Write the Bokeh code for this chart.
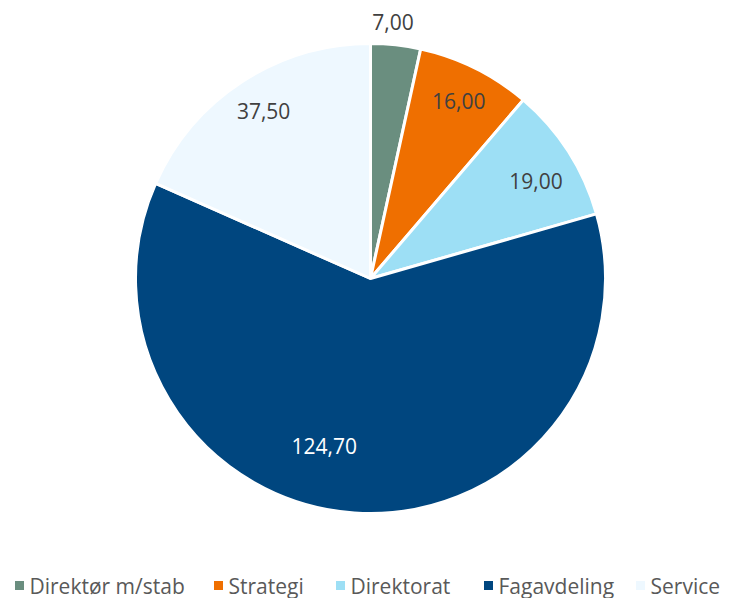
import math
from bokeh.plotting import figure
from bokeh.models import Range1d, ColumnDataSource
from bokeh.core.properties import value
from bokeh.embed import file_html
from bokeh.resources import INLINE

categories = ["Direktør m/stab", "Strategi", "Direktorat", "Fagavdeling", "Service"]
values = [7.00, 16.00, 19.00, 124.70, 37.50]
colors = ["#6A8E7F", "#EF6F00", "#9DDFF5", "#00467F", "#EEF8FF"]
label_colors = ["#404040", "#404040", "#404040", "#FFFFFF", "#404040"]

W, H = 725, 598
# coordinates: 1 data unit = 1 px; x as picture x, y = 614 - picture y
p = figure(width=W, height=H, output_backend="svg", toolbar_location=None,
           x_range=Range1d(0, W), y_range=Range1d(614 - H, 614),
           min_border=0)
p.axis.visible = False
p.grid.visible = False
p.outline_line_color = None
p.background_fill_color = "white"
p.border_fill_color = "white"

cx, cy, R = 370, 614 - 278, 235
total = sum(values)
starts, ends, mids = [], [], []
cum = 0.0
for v in values:
    a0 = math.pi / 2 - cum / total * 2 * math.pi
    cum += v
    a1 = math.pi / 2 - cum / total * 2 * math.pi
    starts.append(a0)
    ends.append(a1)
    mids.append((a0 + a1) / 2)

src = ColumnDataSource(dict(start=starts, end=ends, color=colors, cat=categories))
p.wedge(x=cx, y=cy, radius=R, start_angle="start", end_angle="end",
        direction="clock", fill_color="color", line_color="white",
        line_width=3, source=src)

# label placement (layout)
label_r = [257, 198, 192, 174, 199]
label_da = [0.02, 0.0, -0.04, -0.2, -0.01]
lx, ly, lt = [], [], []
for i, v in enumerate(values):
    a = mids[i] + label_da[i]
    lx.append(cx + label_r[i] * math.cos(a))
    ly.append(cy + label_r[i] * math.sin(a))
    lt.append(f"{v:.2f}".replace(".", ","))
p.text(x=lx, y=ly, text=lt, text_color=label_colors,
       text_font=value("Open Sans"), text_font_size="21px",
       text_align="center", text_baseline="middle")

# legend (manual, bottom)
leg_mx = [19, 218, 340, 488, 640]
leg_y = 614 - 585
p.rect(x=leg_mx, y=leg_y, width=9, height=9, fill_color=colors, line_color=None)
p.text(x=[m + 10 for m in leg_mx], y=leg_y, text=categories, text_color="#595959",
       text_font=value("Open Sans"), text_font_size="21px",
       text_align="left", text_baseline="middle")

open("out.html", "w").write(file_html(p, INLINE))
